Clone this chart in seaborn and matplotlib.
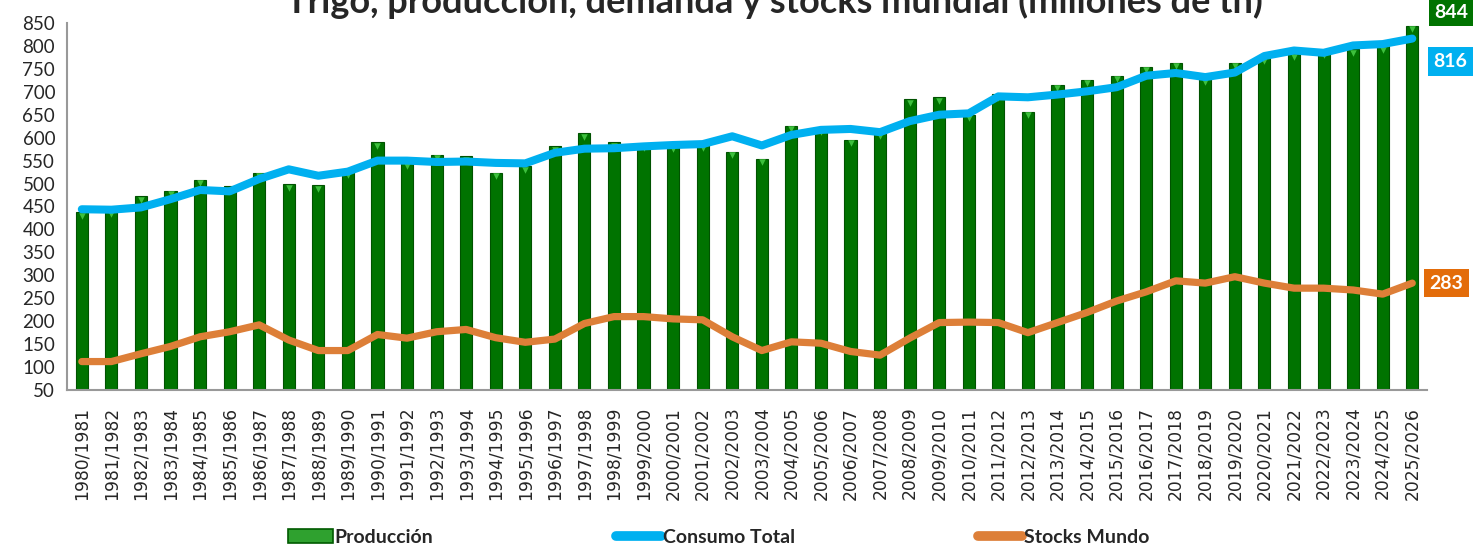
import numpy as np
import pandas as pd
import seaborn as sns
import matplotlib.pyplot as plt
import matplotlib.transforms as mtransforms
from matplotlib.patches import Patch
from matplotlib.lines import Line2D

# campañas 1980/1981 ... 2025/2026
campanias = [f'{y}/{y+1}' for y in range(1980, 2026)]

produccion = [437, 441, 472, 484, 508, 494, 524, 499, 496, 527,
              590, 545, 563, 559, 524, 538, 581, 610, 590, 585,
              583, 585, 569, 554, 626, 620, 596, 612, 684, 688,
              650, 695, 656, 715, 726, 735, 755, 763, 730, 763,
              775, 783, 787, 793, 799, 844]

consumo = [444, 443, 448, 466, 486, 483, 510, 531, 517, 526,
           550, 550, 547, 548, 545, 544, 567, 576, 577, 581,
           584, 586, 603, 583, 606, 617, 619, 612, 636, 650,
           653, 690, 688, 694, 701, 710, 735, 741, 732, 742,
           778, 790, 785, 801, 804, 816]

stocks = [112, 112, 129, 145, 166, 177, 192, 159, 136, 136,
          171, 163, 177, 182, 164, 154, 161, 195, 210, 210,
          205, 203, 166, 136, 155, 152, 134, 126, 163, 197,
          198, 197, 175, 197, 219, 244, 264, 288, 283, 297,
          283, 272, 272, 268, 259, 283]

df = pd.DataFrame({'campania': campanias, 'produccion': produccion,
                   'consumo': consumo, 'stocks': stocks})
df['pos'] = np.arange(len(df))

verde = '#007300'
azul = '#00B0F0'
naranja = '#DD7F38'

sns.set_style('white')
plt.rcParams['font.family'] = ['Lato', 'DejaVu Sans']

fig = plt.figure(figsize=(14.73, 5.47), dpi=100)
ax = fig.add_axes([0.0455, 0.287, 0.9233, 0.671])

sns.barplot(data=df, x='campania', y='produccion', color=verde, width=0.41,
            saturation=1, edgecolor='#005200', linewidth=0.8, ax=ax, zorder=2)
# brillo verde en la punta de las barras
off = mtransforms.offset_copy(ax.transData, fig=fig, y=-3.5, units='dots')
ax.scatter(df['pos'], df['produccion'], marker='v', s=22, color='#3DC03D',
           linewidths=0, transform=off, zorder=3)

sns.lineplot(data=df, x='pos', y='consumo', color=azul, linewidth=5.8,
             solid_capstyle='round', ax=ax, zorder=4)
sns.lineplot(data=df, x='pos', y='stocks', color=naranja, linewidth=5.2,
             solid_capstyle='round', ax=ax, zorder=4)

ax.set_xlim(-0.5, len(df) - 0.5)
ax.set_ylim(50, 850)
ax.set_yticks(np.arange(50, 851, 50))
ax.set_xticks(df['pos'])
ax.set_xticklabels(campanias, rotation=90, fontsize=12.3, family='DejaVu Sans')
ax.set_xticks(np.arange(-0.5, len(df), 1), minor=True)
ax.tick_params(axis='x', which='major', length=0, pad=12)
ax.tick_params(axis='x', which='minor', direction='inout', length=10,
               width=1.2, color='#999999')
ax.tick_params(axis='y', direction='inout', length=11, width=1.2,
               color='#999999', labelsize=13.5, pad=3)
ax.set_xlabel('')
ax.set_ylabel('')
for s in ['top', 'right']:
    ax.spines[s].set_visible(False)
for s in ['left', 'bottom']:
    ax.spines[s].set_color('#999999')
    ax.spines[s].set_linewidth(1.5)

# etiquetas del ultimo valor
ult = len(df) - 1
ax.annotate(f'{produccion[-1]}', xy=(ult, produccion[-1]), xytext=(28, 9.5),
            textcoords='offset points', ha='center', va='center', color='white',
            fontsize=14, fontweight='bold', annotation_clip=False,
            bbox=dict(boxstyle='square,pad=0.25', fc=verde, ec='none'))
ax.annotate(f'{consumo[-1]}', xy=(ult, consumo[-1]), xytext=(27.5, -16.5),
            textcoords='offset points', ha='center', va='center', color='white',
            fontsize=14, fontweight='bold', annotation_clip=False,
            bbox=dict(boxstyle='square,pad=0.3', fc=azul, ec='none'))
ax.annotate(f'{stocks[-1]}', xy=(ult, stocks[-1]), xytext=(24.5, 0),
            textcoords='offset points', ha='center', va='center', color='white',
            fontsize=14, fontweight='bold', annotation_clip=False,
            bbox=dict(boxstyle='square,pad=0.3', fc='#E36C0A', ec='none'))

# el titulo queda recortado arriba, igual que en el original
fig.text(0.526, 0.976, 'Trigo, producción, demanda y stocks mundial (millones de tn)',
         ha='center', va='baseline', fontsize=26, fontweight='bold')

handles = [Patch(facecolor='#2FA12F', edgecolor='#005a00', linewidth=1.2),
           Line2D([], [], color=azul, linewidth=7, solid_capstyle='round'),
           Line2D([], [], color=naranja, linewidth=7, solid_capstyle='round')]
fig.legend(handles, ['Producción', 'Consumo Total', 'Stocks Mundo'],
           loc='center', bbox_to_anchor=(0.488, 0.018), ncol=3, frameon=False,
           prop={'weight': 'bold', 'size': 14}, handlelength=2.3,
           handleheight=0.75, handletextpad=0.1, columnspacing=9.4)

fig.savefig('out.png', dpi=100)
